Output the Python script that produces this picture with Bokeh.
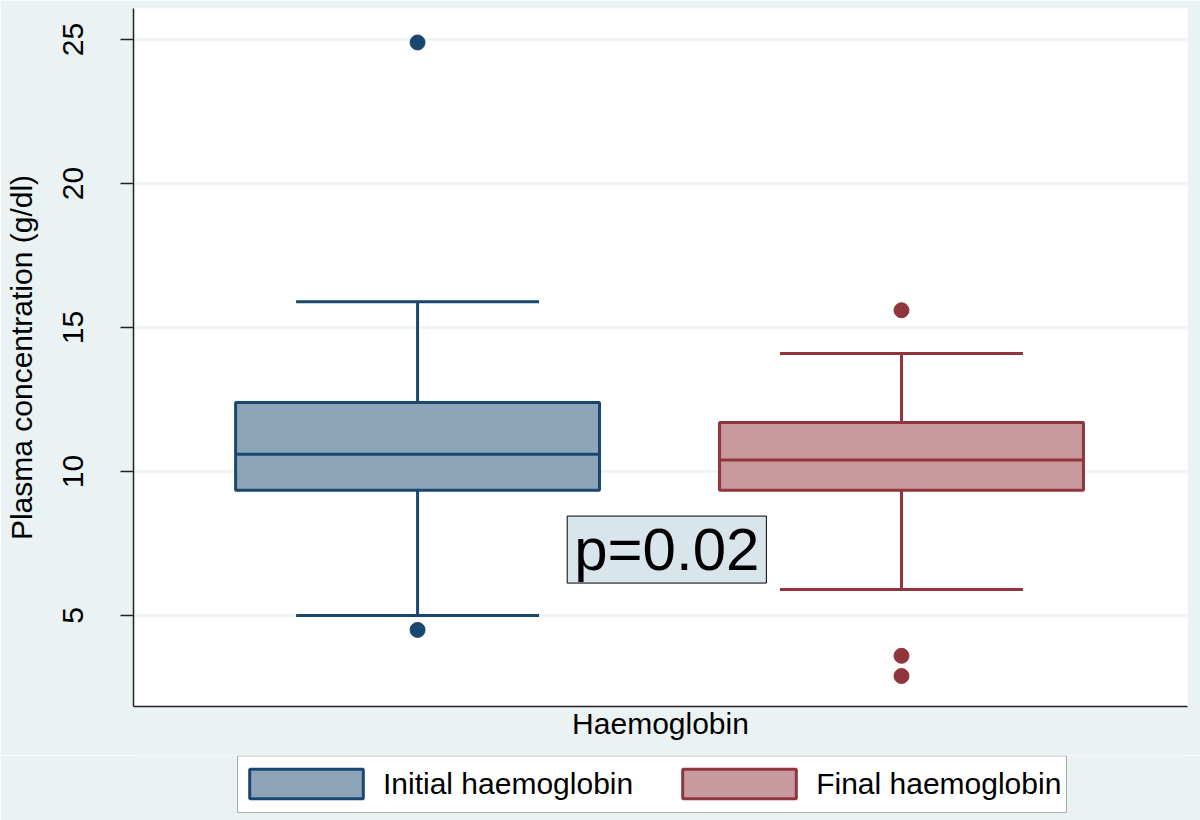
from bokeh.plotting import figure
from bokeh.layouts import column
from bokeh.models import (Range1d, FixedTicker, ColumnDataSource,
                          Legend, LegendItem, Label, BoxAnnotation)
from bokeh.embed import file_html
from bokeh.resources import INLINE

# ---- data ----
categories = ["Initial haemoglobin", "Final haemoglobin"]
q1 = [9.35, 9.35]
median = [10.6, 10.4]
q3 = [12.4, 11.7]
lower_whisker = [5.0, 5.9]
upper_whisker = [15.9, 14.1]
outlier_group = ["Initial haemoglobin", "Initial haemoglobin",
                 "Final haemoglobin", "Final haemoglobin", "Final haemoglobin"]
outlier_value = [24.9, 4.5, 15.6, 3.6, 2.9]
y_ticks = [5, 10, 15, 20, 25]
p_text = "p=0.02"

line_colors = ["#1A476F", "#90353B"]
fill_colors = ["#8EA4B8", "#C89A9D"]
BG = "#EAF2F3"
FONT = "Liberation Sans"

BOX_W = 0.752
CAP_W = 0.502

p = figure(frame_width=1054, frame_height=698, output_backend="svg", toolbar_location=None,
           x_range=Range1d(0.413, 2.591), y_range=Range1d(1.84, 26.08),
           min_border_left=133, min_border_right=13, min_border_top=8,
           min_border_bottom=49)
p.background_fill_color = "white"
p.border_fill_color = BG
p.outline_line_color = None

sources = []
for i, cat in enumerate(categories):
    xc = i + 1  # category position
    src = ColumnDataSource(dict(x=[xc], q1=[q1[i]], q3=[q3[i]], med=[median[i]],
                                lo=[lower_whisker[i]], hi=[upper_whisker[i]],
                                cl=[xc - CAP_W / 2], cr=[xc + CAP_W / 2],
                                bl=[xc - BOX_W / 2], br=[xc + BOX_W / 2]))
    sources.append(src)
    lc, fc = line_colors[i], fill_colors[i]
    p.segment(x0="x", x1="x", y0="q3", y1="hi", source=src, line_color=lc, line_width=3)
    p.segment(x0="x", x1="x", y0="q1", y1="lo", source=src, line_color=lc, line_width=3)
    p.segment(x0="cl", x1="cr", y0="hi", y1="hi", source=src, line_color=lc, line_width=3)
    p.segment(x0="cl", x1="cr", y0="lo", y1="lo", source=src, line_color=lc, line_width=3)
    p.quad(left="bl", right="br", top="q3", bottom="q1", source=src,
           fill_color=fc, line_color=lc, line_width=3)
    p.segment(x0="bl", x1="br", y0="med", y1="med", source=src, line_color=lc, line_width=3)
    ov = [v for g, v in zip(outlier_group, outlier_value) if g == cat]
    p.scatter(x=[xc] * len(ov), y=ov, size=15, fill_color=lc, line_color=lc)

# y axis
p.yaxis.ticker = FixedTicker(ticks=y_ticks)
p.yaxis.minor_tick_line_color = None
p.yaxis.major_tick_out = 13
p.yaxis.major_tick_in = 0
p.yaxis.major_tick_line_color = "#222222"
p.yaxis.major_tick_line_width = 1.5
p.yaxis.axis_line_color = "#222222"
p.yaxis.axis_line_width = 1.5
p.yaxis.major_label_orientation = "vertical"
p.yaxis.major_label_text_font = FONT
p.yaxis.major_label_text_font_size = "30px"
p.yaxis.major_label_text_color = "black"
p.yaxis.major_label_standoff = 37
p.yaxis.axis_label = "Plasma concentration (g/dl)"
p.yaxis.axis_label_text_font = FONT
p.yaxis.axis_label_text_font_size = "30px"
p.yaxis.axis_label_text_font_style = "normal"
p.yaxis.axis_label_text_color = "black"
p.yaxis.axis_label_standoff = 23

# x axis: line and title only
p.xaxis.ticker = FixedTicker(ticks=[])
p.xaxis.major_tick_line_color = None
p.xaxis.minor_tick_line_color = None
p.xaxis.major_label_standoff = 0
p.xaxis.axis_line_color = "#222222"
p.xaxis.axis_line_width = 1.5
p.xaxis.axis_label = "Haemoglobin"
p.xaxis.axis_label_text_font = FONT
p.xaxis.axis_label_text_font_size = "30px"
p.xaxis.axis_label_text_font_style = "normal"
p.xaxis.axis_label_text_color = "black"
p.xaxis.axis_label_standoff = 0

p.xgrid.visible = False
p.ygrid.grid_line_color = BG
p.ygrid.grid_line_width = 2.5

p.add_layout(Label(x=1.515, y=7.29, text=p_text, text_font=FONT, text_font_size="60px",
                   text_align="center", text_baseline="middle", text_color="black",
                   background_fill_color="#D8E5EA", border_line_color="black",
                   border_line_width=1, padding=(7, 0)))

# legend strip: a small figure below the chart whose ranges are in page pixels
q = figure(frame_width=1054, frame_height=65, output_backend="svg", toolbar_location=None,
           x_axis_location=None, y_axis_location=None,
           x_range=Range1d(133, 1187), y_range=Range1d(820, 755),
           min_border_left=133, min_border_right=13, min_border_top=0, min_border_bottom=0)
q.background_fill_color = BG
q.border_fill_color = BG
q.outline_line_color = None
q.grid.visible = False
q.add_layout(BoxAnnotation(left=237, right=1066, top=755.5, bottom=812,
                           fill_color="white", fill_alpha=1,
                           line_color="black", line_width=1, level="underlay"))
key_renderers = []
for i, cat in enumerate(categories):
    # same box data; it lies outside this strip's ranges so only the key swatch shows
    key_renderers.append(q.quad(left="bl", right="br", top="q3", bottom="q1", source=sources[i],
                                fill_color=fill_colors[i], line_color=line_colors[i],
                                line_width=3))
legend = Legend(items=[LegendItem(label=c, renderers=[r]) for c, r in zip(categories, key_renderers)],
                orientation="horizontal", location=(102, 18),
                glyph_width=142, glyph_height=37, label_standoff=6, spacing=35,
                padding=0, margin=0,
                label_text_font=FONT, label_text_font_size="30px", label_text_color="black",
                border_line_color=None, background_fill_alpha=0)
q.add_layout(legend, "center")

page = column(p, q, spacing=0)
open("out.html", "w").write(file_html(page, INLINE))
